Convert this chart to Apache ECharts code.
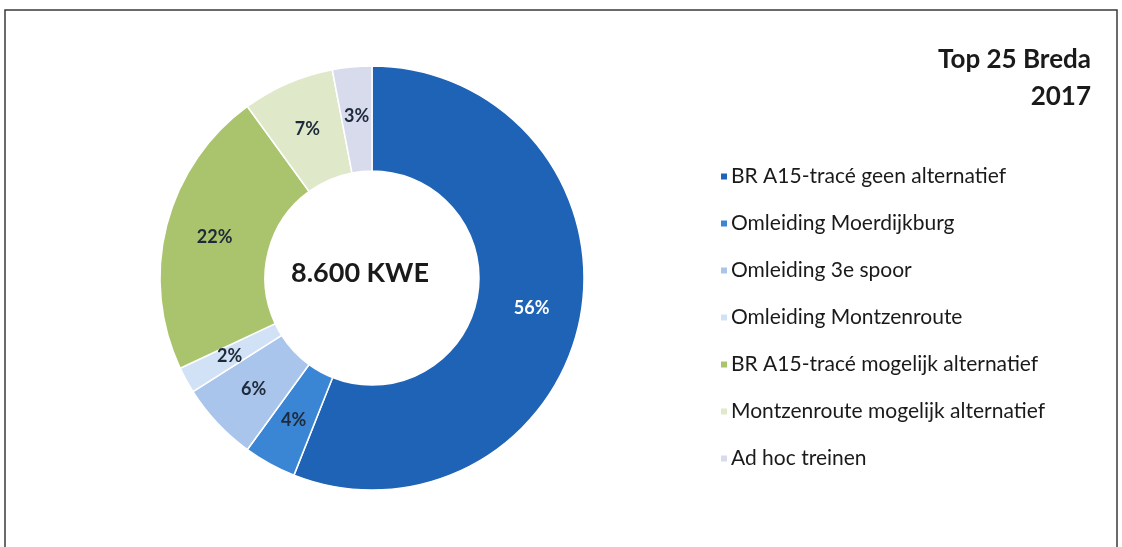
<!DOCTYPE html>
<html lang="nl">
<head>
<meta charset="UTF-8">
<title>Top 25 Breda 2017</title>
<style>
  html, body, #main { margin: 0; padding: 0; width: 100%; height: 100%; background: #fff; overflow: hidden; }
</style>
</head>
<body>
<div id="main"></div>
<script src="https://cdn.jsdelivr.net/npm/echarts@6/dist/echarts.min.js"></script>
<script>
  // data
  const categories = [
    'BR A15-tracé geen alternatief',
    'Omleiding Moerdijkburg',
    'Omleiding 3e spoor',
    'Omleiding Montzenroute',
    'BR A15-tracé mogelijk alternatief',
    'Montzenroute mogelijk alternatief',
    'Ad hoc treinen'
  ];
  const shares = [56, 4, 6, 2, 22, 7, 3];
  const colors = ['#1f63b6', '#3b86d4', '#a9c5ec', '#d2e2f6', '#a9c46c', '#dfe9c9', '#d7dbec'];
  const labelColors = ['#ffffff', '#1e2a3a', '#1e2a3a', '#1e2a3a', '#1e2a3a', '#1e2a3a', '#1e2a3a'];
  const centerText = '8.600 KWE';
  const titleLines = ['Top 25 Breda', '2017'];

  const chart = echarts.init(document.getElementById('main'));
  const font = 'Lato, "Noto Sans", sans-serif';

  chart.setOption({
    animation: false,
    color: colors,
    textStyle: { fontFamily: font },
    legend: {
      orient: 'vertical',
      left: 714,
      top: 161,
      itemWidth: 8,
      itemHeight: 8,
      itemGap: 26,
      icon: 'rect',
      data: categories,
      textStyle: { fontSize: 21, color: '#1a1a1a', fontFamily: font, padding: [0, 0, 0, -2] }
    },
    graphic: [
      {
        type: 'polyline',
        shape: { points: [[5, 560], [5, 10], [1117, 10], [1117, 560]] },
        style: { stroke: '#3a3a3a', lineWidth: 1.5, fill: null }
      },
      {
        type: 'text',
        x: 1091, y: 60,
        style: { text: titleLines[0], fontSize: 26, fontWeight: 'bold', fill: '#1a1a1a', fontFamily: font, align: 'right', verticalAlign: 'middle' }
      },
      {
        type: 'text',
        x: 1091, y: 97,
        style: { text: titleLines[1], fontSize: 26, fontWeight: 'bold', fill: '#1a1a1a', fontFamily: font, align: 'right', verticalAlign: 'middle' }
      },
      {
        type: 'text',
        x: 360, y: 273,
        style: { text: centerText, fontSize: 27, fontWeight: 'bold', fill: '#1a1a1a', fontFamily: font, align: 'center', verticalAlign: 'middle' }
      }
    ],
    series: [{
      type: 'pie',
      center: [372, 278],
      radius: [107, 212],
      startAngle: 90,
      clockwise: true,
      avoidLabelOverlap: false,
      itemStyle: { borderColor: '#ffffff', borderWidth: 1.5 },
      label: {
        position: 'inside',
        formatter: '{c}%',
        fontSize: 18,
        fontWeight: 'bold',
        fontFamily: font
      },
      labelLine: { show: false },
      data: categories.map((name, i) => ({
        name: name,
        value: shares[i],
        label: { color: labelColors[i] }
      }))
    }]
  });
</script>
</body>
</html>
